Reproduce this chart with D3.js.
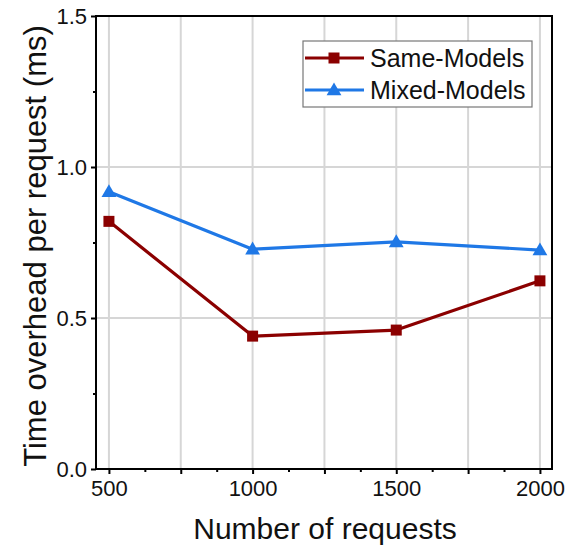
<!DOCTYPE html>
<html>
<head>
<meta charset="utf-8">
<script src="https://cdn.jsdelivr.net/npm/d3@7/dist/d3.min.js"></script>
<style>
  html, body { margin: 0; padding: 0; background: #fff; }
  svg { display: block; font-family: Arial, "Liberation Sans", sans-serif; }
</style>
</head>
<body>
<svg id="chart" width="570" height="546"></svg>
<script>
// Request counts on the x axis
const requests = [500, 1000, 1500, 2000];
// Per-request time overhead (ms) for each workload
const sameModels = [0.82, 0.44, 0.46, 0.623];
const mixedModels = [0.918, 0.728, 0.752, 0.725];
const seriesNames = ["Same-Models", "Mixed-Models"];
const xTickLabels = [500, 1000, 1500, 2000];
const yTickLabels = [0.0, 0.5, 1.0, 1.5];

const svg = d3.select("#chart");
const margin = { left: 96, top: 16, right: 18, bottom: 77 };
const W = 570, H = 546;
const x0 = margin.left, x1 = W - margin.right;
const y0 = H - margin.bottom, y1 = margin.top;

const x = d3.scaleLinear().domain([455, 2042]).range([x0, x1]);
const y = d3.scaleLinear().domain([0, 1.5]).range([y0, y1]);

const gridColor = "#d6d6d6";

// Vertical grid every 250 requests
const g = svg.append("g");
g.selectAll(".vg").data(d3.range(500, 2001, 250)).join("line")
  .attr("x1", d => x(d)).attr("x2", d => x(d))
  .attr("y1", y0).attr("y2", y1)
  .attr("stroke", gridColor).attr("stroke-width", 2);
// Horizontal grid at the labelled values
g.selectAll(".hg").data(yTickLabels.filter(v => v > 0 && v < 1.5)).join("line")
  .attr("x1", x0).attr("x2", x1)
  .attr("y1", d => y(d)).attr("y2", d => y(d))
  .attr("stroke", gridColor).attr("stroke-width", 2);

// Axes
const xAxis = d3.axisBottom(x).tickValues(xTickLabels).tickFormat(d3.format("d")).tickSize(5).tickPadding(6);
const xMinor = d3.axisBottom(x).tickValues(d3.range(500, 2001, 125).filter(v => v % 250 !== 0)).tickFormat("").tickSize(3);
const xMid = d3.axisBottom(x).tickValues([750, 1250, 1750]).tickFormat("").tickSize(5);
const yAxis = d3.axisLeft(y).tickValues(yTickLabels).tickFormat(d3.format(".1f")).tickSize(5).tickPadding(4);
const yMinor = d3.axisLeft(y).tickValues([0.25, 0.75, 1.25]).tickFormat("").tickSize(3);

function styleAxis(sel) {
  sel.select(".domain").remove();
  sel.selectAll("line").attr("stroke", "#000").attr("stroke-width", 2);
  sel.selectAll("text").attr("font-size", 22).attr("fill", "#111")
    .attr("font-family", "Arial, 'Liberation Sans', sans-serif");
}
svg.append("g").attr("transform", `translate(0,${y0})`).call(xAxis).call(styleAxis);
svg.append("g").attr("transform", `translate(0,${y0})`).call(xMinor).call(styleAxis);
svg.append("g").attr("transform", `translate(0,${y0})`).call(xMid).call(styleAxis);
svg.append("g").attr("transform", `translate(${x0},0)`).call(yAxis).call(styleAxis);
svg.append("g").attr("transform", `translate(${x0},0)`).call(yMinor).call(styleAxis);

// Frame
svg.append("rect").attr("x", x0).attr("y", y1)
  .attr("width", x1 - x0).attr("height", y0 - y1)
  .attr("fill", "none").attr("stroke", "#000").attr("stroke-width", 2);

// Axis titles
svg.append("text").attr("x", 325).attr("y", 539).attr("text-anchor", "middle")
  .attr("font-size", 30).attr("fill", "#111").text("Number of requests");
svg.append("text").attr("transform", "translate(46,246) rotate(-90)")
  .attr("text-anchor", "middle").attr("font-size", 31).attr("fill", "#111")
  .text("Time overhead per request (ms)");

// Series
const colors = ["#8b0000", "#1f78e6"];
const series = [sameModels, mixedModels];
const line = d3.line().x((d, i) => x(requests[i])).y(d => y(d));
const symbols = [d3.symbol().type(d3.symbolSquare).size(121), d3.symbol().type(d3.symbolTriangle).size(95)];

series.forEach((vals, k) => {
  svg.append("path").datum(vals).attr("d", line)
    .attr("fill", "none").attr("stroke", colors[k]).attr("stroke-width", 3.2)
    .attr("stroke-linejoin", "round");
  svg.selectAll(".m" + k).data(vals).join("path")
    .attr("transform", (d, i) => `translate(${x(requests[i])},${y(d) + (k === 1 ? 1 : 0)})`)
    .attr("d", symbols[k]).attr("fill", colors[k]);
});

// Legend
const lg = svg.append("g");
lg.append("rect").attr("x", 303).attr("y", 41).attr("width", 229).attr("height", 66)
  .attr("fill", "#fff").attr("stroke", "#777").attr("stroke-width", 1.2);
seriesNames.forEach((name, k) => {
  const ly = 58 + k * 32;
  lg.append("line").attr("x1", 305).attr("x2", 364).attr("y1", ly).attr("y2", ly)
    .attr("stroke", colors[k]).attr("stroke-width", 3.2);
  lg.append("path").attr("transform", `translate(334,${ly + (k === 1 ? 1 : 0)})`)
    .attr("d", symbols[k]).attr("fill", colors[k]);
  lg.append("text").attr("x", 370).attr("y", ly + 8.5).attr("font-size", 25)
    .attr("fill", "#111").text(name);
});
</script>
</body>
</html>
